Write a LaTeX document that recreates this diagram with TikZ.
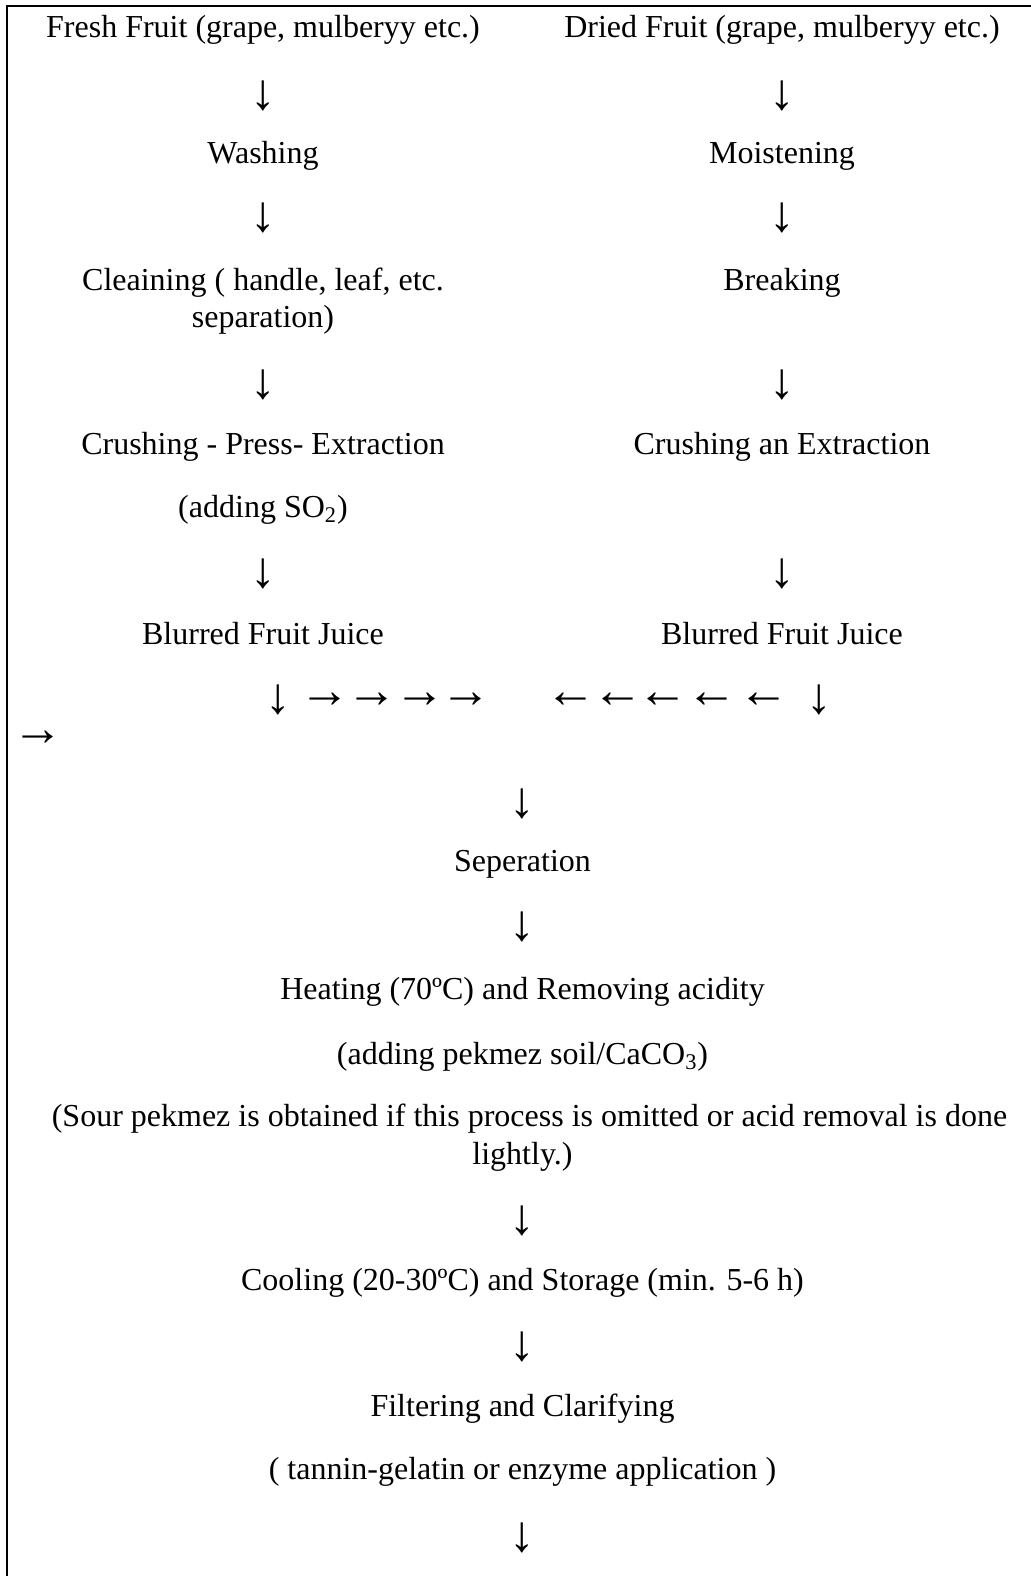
\documentclass[tikz,border=0pt]{standalone}
\usepackage{fontspec}
\setmainfont{Liberation Serif}
\begin{document}
\begin{tikzpicture}[x=0.5pt,y=-0.5pt,
  txt/.style={inner sep=0pt,anchor=base,font=\fontsize{16}{19}\selectfont},
  arr/.style={inner sep=0pt,anchor=center,font=\fontsize{25.5}{28}\selectfont},
  frame/.style={line width=1pt,black}]
\useasboundingbox (0,0) rectangle (1031,1576);
\fill[white] (0,0) rectangle (1031,1576);
\draw[frame] (1031,6) -- (7,6) -- (7,1576);
% left column
\node[txt] (fresh) at (263,37) {Fresh Fruit (grape, mulberyy etc.)};
\node[arr] (la1) at (263,96) {↓};
\node[txt] (wash) at (263,163) {Washing};
\node[arr] (la2) at (263,218) {↓};
\node[txt] (cleanA) at (263,290) {Cleaining ( handle, leaf, etc.};
\node[txt] (cleanB) at (263,327.5) {separation)};
\node[arr] (la3) at (263,385) {↓};
\node[txt] (crushL) at (263,454.5) {Crushing - Press- Extraction};
\node[txt] (so2) at (263,517) {(adding SO\textsubscript{2})};
\node[arr] (la4) at (263,574) {↓};
\node[txt] (blurL) at (263,644) {Blurred Fruit Juice};
% right column
\node[txt] (dried) at (782,37) {Dried Fruit (grape, mulberyy etc.)};
\node[arr] (ra1) at (782,96) {↓};
\node[txt] (moist) at (782,163) {Moistening};
\node[arr] (ra2) at (782,218) {↓};
\node[txt] (break) at (782,290) {Breaking};
\node[arr] (ra3) at (782,385) {↓};
\node[txt] (crushR) at (782,454.5) {Crushing an Extraction};
\node[arr] (ra4) at (782,574) {↓};
\node[txt] (blurR) at (782,644) {Blurred Fruit Juice};
% joining row
\node[arr] (jd1) at (278,700) {↓};
\node[arr] (jr1) at (325,700) {→};
\node[arr] (jr2) at (372,700) {→};
\node[arr] (jr3) at (420,700) {→};
\node[arr] (jr4) at (465.5,700) {→};
\node[arr] (jl1) at (571,700) {←};
\node[arr] (jl2) at (618,700) {←};
\node[arr] (jl3) at (663,700) {←};
\node[arr] (jl4) at (711.5,700) {←};
\node[arr] (jl5) at (763.5,700) {←};
\node[arr] (jd2) at (819,700) {↓};
\node[arr] (jr0) at (37.5,738) {→};
% centre column
\node[arr] (ca1) at (522.5,804) {↓};
\node[txt] (sep) at (522.5,871) {Seperation};
\node[arr] (ca2) at (522.5,927) {↓};
\node[txt] (heat) at (522.5,999) {Heating (70ºC) and Removing acidity};
\node[txt] (caco) at (522.5,1064) {(adding pekmez soil/CaCO\textsubscript{3})};
\node[txt] (sourA) at (529.5,1126.5) {(Sour pekmez is obtained if this process is omitted or acid removal is done};
\node[txt] (sourB) at (522.5,1164) {lightly.)};
\node[arr] (ca3) at (522.5,1221) {↓};
\node[txt] (cool) at (522.5,1290) {Cooling (20-30ºC) and Storage (min. 5-6 h)};
\node[arr] (ca4) at (522.5,1347) {↓};
\node[txt] (filt) at (522.5,1416) {Filtering and Clarifying};
\node[txt] (tann) at (522.5,1479) {( tannin-gelatin or enzyme application )};
\node[arr] (ca5) at (522.5,1538) {↓};
\end{tikzpicture}
\end{document}
